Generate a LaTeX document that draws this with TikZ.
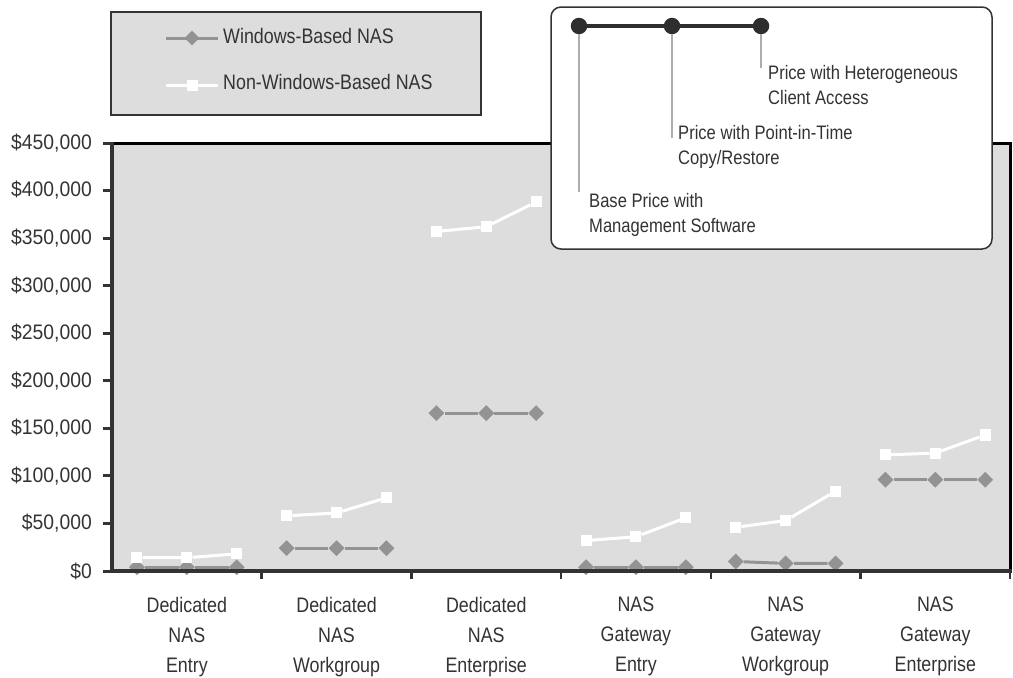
\documentclass[tikz,border=0pt]{standalone}
\usepackage{fontspec}
\setmainfont{Liberation Sans}[FakeStretch=0.85]
\newfontfamily\numfont{Liberation Sans}[FakeStretch=0.92]
\usetikzlibrary{shapes.geometric}
\definecolor{plotgray}{HTML}{DDDDDD}
\definecolor{wingray}{HTML}{939393}
\definecolor{txtgray}{HTML}{333333}
\definecolor{axisgray}{HTML}{333333}
\definecolor{leadgray}{HTML}{ADADAD}
\definecolor{dotgray}{HTML}{2E2E2E}

\begin{document}
\begin{tikzpicture}[x=1pt, y=-1pt]
  \tikzstyle{wmark} = [diamond, fill=wingray, inner sep=0pt, minimum width=16pt, minimum height=16pt]
  \tikzstyle{nmark} = [rectangle, fill=white, inner sep=0pt, minimum size=11pt]
  \tikzstyle{wline} = [wingray, line width=3pt]
  \tikzstyle{nline} = [white, line width=3pt]
  \tikzstyle{axislabel} = [text=txtgray, font=\fontsize{21}{30}\selectfont, inner sep=0pt]
  \tikzstyle{catlabel} = [axislabel, align=center, anchor=north]
  \tikzstyle{calllabel} = [text=txtgray, font=\fontsize{19.5}{25}\selectfont, align=left, anchor=north west, inner sep=0pt]
  \tikzstyle{dot} = [circle, fill=dotgray, minimum size=16.5pt, inner sep=0pt]
  \tikzstyle{leader} = [leadgray, line width=1.5pt]

  \useasboundingbox (0,0) rectangle (1013,678);

  % Plot area
  \fill[plotgray] (112,143) rectangle (1010,571);
  \draw[black, line width=3pt] (112,143) -- (1010,143) -- (1010,571);

  % Windows-Based NAS
  \foreach \k/\a/\b/\c in {0/4/4/4, 1/24/24/24, 2/166/166/166, 3/4/4/4, 4/10/8/8, 5/96/96/96} {
    \node[wmark] (win-\k-1) at ({112+149.7*(\k+1/6)}, {571-0.9511*\a}) {};
    \node[wmark] (win-\k-2) at ({112+149.7*(\k+3/6)}, {571-0.9511*\b}) {};
    \node[wmark] (win-\k-3) at ({112+149.7*(\k+5/6)}, {571-0.9511*\c}) {};
    \draw[wline] (win-\k-1) -- (win-\k-2) -- (win-\k-3);
  }

  % Non-Windows-Based NAS
  \foreach \k/\a/\b/\c in {0/14/14/18, 1/58/61/77, 2/357/362/388, 3/32/36/56, 4/46/53/84, 5/122/124/143} {
    \node[nmark] (nwin-\k-1) at ({112+149.7*(\k+1/6)}, {571-0.9511*\a}) {};
    \node[nmark] (nwin-\k-2) at ({112+149.7*(\k+3/6)}, {571-0.9511*\b}) {};
    \node[nmark] (nwin-\k-3) at ({112+149.7*(\k+5/6)}, {571-0.9511*\c}) {};
    \draw[nline] (nwin-\k-1) -- (nwin-\k-2) -- (nwin-\k-3);
  }

  % Axes
  \draw[axisgray, line width=3.5pt] (112,141.5) -- (112,571) -- (1011.5,571);
  \foreach \v/\lab in {0/{\$0}, 50/{\$50,000}, 100/{\$100,000}, 150/{\$150,000}, 200/{\$200,000},
                       250/{\$250,000}, 300/{\$300,000}, 350/{\$350,000}, 400/{\$400,000}, 450/{\$450,000}} {
    \draw[axisgray, line width=3pt] (103, {571-0.9511*\v}) -- (112, {571-0.9511*\v});
    \node[axislabel, anchor=east, font=\fontsize{21}{30}\numfont] (ylab-\v) at (92, {571-0.9511*\v}) {\lab};
  }
  \foreach \k in {1,...,6}
    \draw[axisgray, line width=2.5pt] ({112+149.7*\k}, 571) -- ++(0,8);

  % Categories
  \foreach \k/\txt in {0/Dedicated\\NAS\\Entry, 1/Dedicated\\NAS\\Workgroup, 2/Dedicated\\NAS\\Enterprise,
                       3/NAS\\Gateway\\Entry, 4/NAS\\Gateway\\Workgroup, 5/NAS\\Gateway\\Enterprise}
    \node[catlabel] (cat-\k) at ({112+149.7*(\k+1/2)}, 597) {\txt};

  % Legend
  \draw[fill=plotgray, draw=axisgray, line width=2.5pt] (111,12) rectangle (481,115);
  \draw[wline] (166,38) -- (218,38) node[wmark, midway] (leg-win) {};
  \node[axislabel, anchor=base west] (leg-win-txt) at (223,43) {Windows-Based NAS};
  \draw[nline] (166,85) -- (218,85) node[nmark, midway] (leg-nwin) {};
  \node[axislabel, anchor=base west] (leg-nwin-txt) at (223,89) {Non-Windows-Based NAS};

  % Callout
  \draw[fill=white, draw=axisgray, line width=1.5pt, rounded corners=10pt] (551,7) rectangle (992,249);
  \node[dot] (dbase) at (579,26) {};
  \node[dot] (dpit) at (672,26) {};
  \node[dot] (dhca) at (761,26) {};
  \draw[dotgray, line width=3.5pt] (dbase) -- (dpit) -- (dhca);
  \node[calllabel] (tbase) at (589,193) {Base Price with\\Management Software};
  \node[calllabel] (tpit) at (678,125) {Price with Point-in-Time\\Copy/Restore};
  \node[calllabel] (thca) at (768,65) {Price with Heterogeneous\\Client Access};
  \coordinate (ebase) at (579,192);
  \coordinate (epit) at (672,138);
  \coordinate (ehca) at (761,68);
  \draw[leader] (dbase) -- (ebase);
  \draw[leader] (dpit) -- (epit);
  \draw[leader] (dhca) -- (ehca);

\end{tikzpicture}
\end{document}
